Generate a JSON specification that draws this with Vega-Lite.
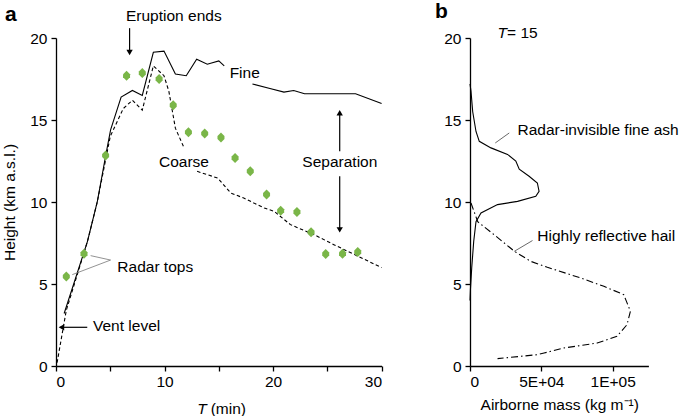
{
  "$schema": "https://vega.github.io/schema/vega-lite/v6.json",
  "padding": {"left": 2, "top": 0, "right": 0, "bottom": 0},
  "bounds": "flush",
  "spacing": 88,
  "config": {
    "font": "Liberation Sans",
    "view": {"stroke": null},
    "axis": {"grid": false, "domainColor": "black", "domainWidth": 1.3, "tickColor": "black", "tickWidth": 1.3, "tickSize": 5, "labelFontSize": 15.5, "labelColor": "black", "titleFontSize": 15.5, "titleFontWeight": "normal", "titleColor": "black", "labelPadding": 3, "titlePadding": 8},
    "axisY": {"labelPadding": 4, "titlePadding": 12},
    "title": {"color": "black"}
  },
  "datasets": {
    "fine": [
      {"t": 0.75, "h": 3.2, "seg": 1}, {"t": 2.9, "h": 7.6, "seg": 1}, {"t": 3.8, "h": 10.0, "seg": 1}, {"t": 4.6, "h": 12.9, "seg": 1}, {"t": 5.03, "h": 14.4, "seg": 1}, {"t": 6.0, "h": 16.4, "seg": 1}, {"t": 7.04, "h": 16.8, "seg": 1}, {"t": 7.95, "h": 16.5, "seg": 1}, {"t": 8.97, "h": 19.13, "seg": 1}, {"t": 9.95, "h": 19.2, "seg": 1}, {"t": 11.0, "h": 17.8, "seg": 1}, {"t": 12.0, "h": 17.7, "seg": 1}, {"t": 12.96, "h": 18.7, "seg": 1}, {"t": 13.94, "h": 18.4, "seg": 1}, {"t": 15.0, "h": 18.6, "seg": 1}, {"t": 15.5, "h": 18.3, "seg": 1},
      {"t": 18.1, "h": 17.2, "seg": 2}, {"t": 19.8, "h": 16.9, "seg": 2}, {"t": 21.0, "h": 16.7, "seg": 2}, {"t": 21.9, "h": 16.8, "seg": 2}, {"t": 22.9, "h": 16.6, "seg": 2}, {"t": 27.6, "h": 16.6, "seg": 2}, {"t": 30.0, "h": 16.0, "seg": 2}
    ],
    "coarse": [
      {"t": 0.1, "h": 0.2, "seg": 1}, {"t": 0.95, "h": 3.4, "seg": 1}, {"t": 2.9, "h": 7.6, "seg": 1}, {"t": 3.8, "h": 10.0, "seg": 1}, {"t": 5.0, "h": 14.0, "seg": 1}, {"t": 6.2, "h": 15.7, "seg": 1}, {"t": 7.04, "h": 16.2, "seg": 1}, {"t": 7.95, "h": 15.6, "seg": 1}, {"t": 8.97, "h": 18.3, "seg": 1}, {"t": 9.95, "h": 17.7, "seg": 1}, {"t": 10.4, "h": 16.75, "seg": 1}, {"t": 11.0, "h": 14.5, "seg": 1}, {"t": 11.8, "h": 13.3, "seg": 1},
      {"t": 13.0, "h": 11.87, "seg": 2}, {"t": 14.9, "h": 11.46, "seg": 2}, {"t": 16.1, "h": 10.55, "seg": 2}, {"t": 17.3, "h": 10.24, "seg": 2}, {"t": 19.2, "h": 9.63, "seg": 2}, {"t": 20.1, "h": 9.43, "seg": 2}, {"t": 21.6, "h": 8.62, "seg": 2}, {"t": 23.8, "h": 8.0, "seg": 2}, {"t": 25.6, "h": 7.4, "seg": 2}, {"t": 27.8, "h": 6.7, "seg": 2}, {"t": 30.0, "h": 6.0, "seg": 2}
    ],
    "radar": [
      {"t": 0.95, "h": 5.45}, {"t": 2.58, "h": 6.85}, {"t": 4.57, "h": 12.83}, {"t": 6.5, "h": 17.7}, {"t": 7.95, "h": 17.87}, {"t": 9.5, "h": 17.5}, {"t": 10.8, "h": 15.9}, {"t": 12.2, "h": 14.25}, {"t": 13.7, "h": 14.17}, {"t": 15.2, "h": 13.93}, {"t": 16.5, "h": 12.68}, {"t": 17.9, "h": 11.87}, {"t": 19.4, "h": 10.45}, {"t": 20.7, "h": 9.47}, {"t": 22.2, "h": 9.39}, {"t": 23.5, "h": 8.15}, {"t": 24.85, "h": 6.83}, {"t": 26.4, "h": 6.85}, {"t": 27.8, "h": 6.95}
    ],
    "rules_a": [
      {"t": 6.78, "h": 20.6, "t2": 6.78, "h2": 19.2, "kind": "arrow"},
      {"t": 26.14, "h": 13.09, "t2": 26.14, "h2": 15.4, "kind": "arrow"},
      {"t": 26.14, "h": 11.57, "t2": 26.14, "h2": 8.35, "kind": "arrow"},
      {"t": 2.88, "h": 2.36, "t2": 0.45, "h2": 2.36, "kind": "arrow"},
      {"t": 5.03, "h": 6.46, "t2": 3.19, "h2": 6.73, "kind": "leader"},
      {"t": 5.03, "h": 6.46, "t2": 1.5, "h2": 5.57, "kind": "leader"}
    ],
    "heads_a": [
      {"t": 6.78, "h": 19.12, "dir": "down"},
      {"t": 26.14, "h": 15.44, "dir": "up"},
      {"t": 26.14, "h": 8.3, "dir": "down"},
      {"t": 0.5, "h": 2.36, "dir": "left"}
    ],
    "labels_a": [
      {"t": 6.45, "h": 21.35, "text": "Eruption ends"},
      {"t": 16.0, "h": 17.87, "text": "Fine"},
      {"t": 9.49, "h": 12.42, "text": "Coarse"},
      {"t": 22.7, "h": 12.44, "text": "Separation"},
      {"t": 5.65, "h": 6.04, "text": "Radar tops"},
      {"t": 3.41, "h": 2.42, "text": "Vent level"},
      {"t": 14.25, "h": -2.6, "text": "(min)"}
    ],
    "italic_a": [
      {"t": 13.02, "h": -2.6, "text": "T"}
    ],
    "ash": [
      {"m": 0, "h": 17.2}, {"m": 700, "h": 16.75}, {"m": 1900, "h": 15.5}, {"m": 4200, "h": 14.3}, {"m": 6500, "h": 13.7}, {"m": 14700, "h": 13.3}, {"m": 26300, "h": 12.9}, {"m": 32100, "h": 12.5}, {"m": 34500, "h": 12.0}, {"m": 41400, "h": 11.57}, {"m": 47200, "h": 11.16}, {"m": 48400, "h": 10.65}, {"m": 46100, "h": 10.35}, {"m": 33300, "h": 10.04}, {"m": 19300, "h": 9.84}, {"m": 7700, "h": 9.33}, {"m": 4200, "h": 8.8}, {"m": 2600, "h": 7.6}, {"m": 1200, "h": 5.98}, {"m": 300, "h": 4.66}, {"m": 0, "h": 4.0}
    ],
    "hail": [
      {"m": 700, "h": 9.94}, {"m": 5400, "h": 8.8}, {"m": 17000, "h": 8.0}, {"m": 31000, "h": 7.0}, {"m": 42600, "h": 6.38}, {"m": 54200, "h": 6.02}, {"m": 77500, "h": 5.37}, {"m": 93800, "h": 4.86}, {"m": 107700, "h": 4.35}, {"m": 112400, "h": 3.34}, {"m": 110000, "h": 2.52}, {"m": 103000, "h": 1.81}, {"m": 89100, "h": 1.4}, {"m": 65900, "h": 1.1}, {"m": 51900, "h": 0.79}, {"m": 47200, "h": 0.69}, {"m": 19300, "h": 0.45}
    ],
    "rules_b": [
      {"m": 17700, "h": 13.6, "m2": 27500, "h2": 14.21},
      {"m": 31000, "h": 6.99, "m2": 43800, "h2": 7.65}
    ],
    "labels_b": [
      {"m": 26000, "h": 20.3, "text": "= 15"},
      {"m": 33300, "h": 14.37, "text": "Radar-invisible fine ash"},
      {"m": 47200, "h": 7.91, "text": "Highly reflective hail"}
    ],
    "italic_b": [
      {"m": 19300, "h": 20.3, "text": "T"}
    ]
  },
  "hconcat": [
    {
      "width": 325.6,
      "height": 328,
      "title": {"text": "a", "anchor": "start", "frame": "group", "dx": -51, "fontSize": 21, "fontWeight": "bold", "offset": -16.5},
      "layer": [
        {
          "data": {"name": "fine"},
          "mark": {"type": "line", "color": "black", "strokeWidth": 1.1},
          "encoding": {
            "x": {"field": "t", "type": "quantitative", "scale": {"domain": [0, 30], "nice": false}, "axis": {"values": [0, 5, 10, 15, 20, 25, 30], "labelExpr": "datum.value % 10 === 0 ? datum.label : ''", "title": null}},
            "y": {"field": "h", "type": "quantitative", "scale": {"domain": [0, 20], "nice": false}, "axis": {"values": [0, 5, 10, 15, 20], "title": "Height (km a.s.l.)"}},
            "detail": {"field": "seg"}
          }
        },
        {
          "data": {"name": "coarse"},
          "mark": {"type": "line", "color": "black", "strokeWidth": 1.1, "strokeDash": [3.5, 2.5]},
          "encoding": {
            "x": {"field": "t", "type": "quantitative"},
            "y": {"field": "h", "type": "quantitative"},
            "detail": {"field": "seg"}
          }
        },
        {
          "data": {"name": "radar"},
          "mark": {"type": "point", "filled": true, "color": "#7ab648", "opacity": 1, "size": 100, "shape": "M0,-1L0.7,-0.3L0.7,0.3L0,1L-0.7,0.3L-0.7,-0.3Z"},
          "encoding": {
            "x": {"field": "t", "type": "quantitative"},
            "y": {"field": "h", "type": "quantitative"}
          }
        },
        {
          "data": {"name": "rules_a"},
          "mark": {"type": "rule"},
          "encoding": {
            "x": {"field": "t", "type": "quantitative"},
            "y": {"field": "h", "type": "quantitative"},
            "x2": {"field": "t2"},
            "y2": {"field": "h2"},
            "color": {"field": "kind", "type": "nominal", "scale": {"domain": ["arrow", "leader"], "range": ["black", "#777777"]}, "legend": null},
            "strokeWidth": {"field": "kind", "type": "nominal", "scale": {"domain": ["arrow", "leader"], "range": [1.2, 0.8]}, "legend": null}
          }
        },
        {
          "data": {"name": "heads_a"},
          "mark": {"type": "point", "filled": true, "color": "black", "opacity": 1, "size": 40},
          "encoding": {
            "x": {"field": "t", "type": "quantitative"},
            "y": {"field": "h", "type": "quantitative"},
            "shape": {"field": "dir", "type": "nominal", "scale": {"domain": ["down", "up", "left"], "range": ["triangle-down", "triangle-up", "triangle-left"]}, "legend": null}
          }
        },
        {
          "data": {"name": "labels_a"},
          "mark": {"type": "text", "align": "left", "baseline": "middle", "fontSize": 15.5, "color": "black"},
          "encoding": {
            "x": {"field": "t", "type": "quantitative"},
            "y": {"field": "h", "type": "quantitative"},
            "text": {"field": "text"}
          }
        },
        {
          "data": {"name": "italic_a"},
          "mark": {"type": "text", "align": "left", "baseline": "middle", "fontSize": 15.5, "fontStyle": "italic", "color": "black"},
          "encoding": {
            "x": {"field": "t", "type": "quantitative"},
            "y": {"field": "h", "type": "quantitative"},
            "text": {"field": "text"}
          }
        }
      ]
    },
    {
      "width": 178.4,
      "height": 328,
      "title": {"text": "b", "anchor": "start", "frame": "group", "dx": -35, "fontSize": 21, "fontWeight": "bold", "offset": 4.5},
      "layer": [
        {
          "data": {"name": "ash"},
          "mark": {"type": "line", "color": "black", "strokeWidth": 1.1},
          "encoding": {
            "x": {"field": "m", "type": "quantitative", "scale": {"domain": [0, 125000], "nice": false}, "axis": {"values": [0, 25000, 50000, 75000, 100000, 125000], "labelExpr": "datum.value === 0 ? '0' : datum.value === 50000 ? '5E+04' : datum.value === 100000 ? '1E+05' : ''", "title": "Airborne mass (kg m⁻¹)"}},
            "y": {"field": "h", "type": "quantitative", "scale": {"domain": [0, 20], "nice": false}, "axis": {"values": [0, 5, 10, 15, 20], "title": null}},
            "order": {"field": "h", "sort": "descending"}
          }
        },
        {
          "data": {"name": "hail"},
          "mark": {"type": "line", "color": "black", "strokeWidth": 1.1, "strokeDash": [7, 3, 1.5, 3]},
          "encoding": {
            "x": {"field": "m", "type": "quantitative"},
            "y": {"field": "h", "type": "quantitative"},
            "order": {"field": "h", "sort": "descending"}
          }
        },
        {
          "data": {"name": "rules_b"},
          "mark": {"type": "rule", "color": "#444444", "strokeWidth": 0.8},
          "encoding": {
            "x": {"field": "m", "type": "quantitative"},
            "y": {"field": "h", "type": "quantitative"},
            "x2": {"field": "m2"},
            "y2": {"field": "h2"}
          }
        },
        {
          "data": {"name": "labels_b"},
          "mark": {"type": "text", "align": "left", "baseline": "middle", "fontSize": 15.5, "color": "black"},
          "encoding": {
            "x": {"field": "m", "type": "quantitative"},
            "y": {"field": "h", "type": "quantitative"},
            "text": {"field": "text"}
          }
        },
        {
          "data": {"name": "italic_b"},
          "mark": {"type": "text", "align": "left", "baseline": "middle", "fontSize": 15.5, "fontStyle": "italic", "color": "black"},
          "encoding": {
            "x": {"field": "m", "type": "quantitative"},
            "y": {"field": "h", "type": "quantitative"},
            "text": {"field": "text"}
          }
        }
      ]
    }
  ]
}
